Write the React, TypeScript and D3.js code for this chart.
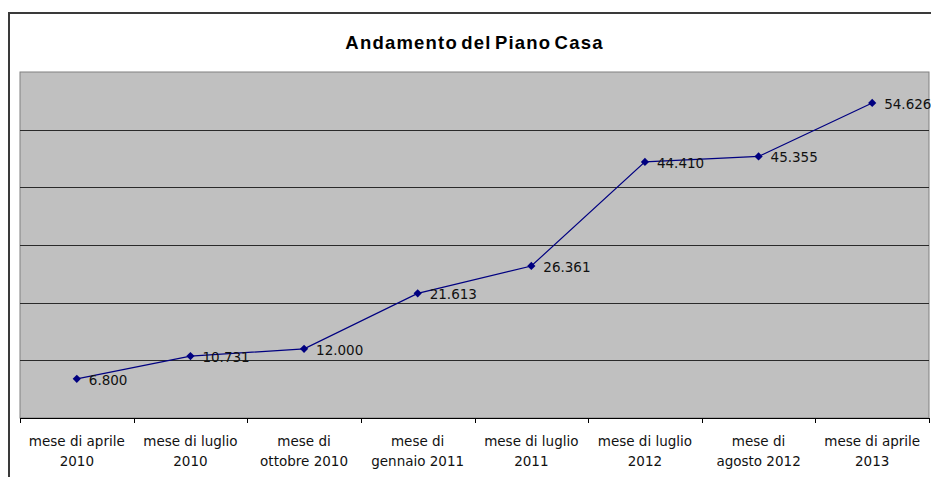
import React from "react";
import * as d3 from "d3";

const categories: string[][] = [
  ["mese di aprile", "2010"],
  ["mese di luglio", "2010"],
  ["mese di", "ottobre 2010"],
  ["mese di", "gennaio 2011"],
  ["mese di luglio", "2011"],
  ["mese di luglio", "2012"],
  ["mese di", "agosto 2012"],
  ["mese di aprile", "2013"],
];
const values: number[] = [6800, 10731, 12000, 21613, 26361, 44410, 45355, 54626];
const yTicks: number[] = [0, 10000, 20000, 30000, 40000, 50000, 60000];
const title = "Andamento del Piano Casa";

const W = 931;
const H = 477;
const plot = { left: 20, right: 929, top: 72, bottom: 418 };

const locale = d3.formatLocale({ decimal: ",", thousands: ".", grouping: [3], currency: ["€", ""] });
const fmt = locale.format(",.0f");

export default function App() {
  const keys = categories.map((c) => c.join(" "));
  const x = d3.scaleBand<string>().domain(keys).range([plot.left, plot.right]);
  const y = d3.scaleLinear().domain([0, 60000]).range([plot.bottom, plot.top]);
  const cx = (i: number) => (x(keys[i]) as number) + x.bandwidth() / 2;
  const line = d3
    .line<number>()
    .x((_, i) => cx(i))
    .y((d) => y(d));
  const marker = d3.symbol().type(d3.symbolSquare).size(34)();
  const font = "'DejaVu Sans', Verdana, sans-serif";
  const boundaries = keys.map((k) => x(k) as number).concat([plot.right]);

  return (
    <svg
      width={W}
      height={H}
      style={{ position: "absolute", left: 0, top: 0, background: "#fff" }}
    >
      <rect x={9} y={13} width={W + 20} height={H + 20} fill="#fff" stroke="#3a3a3a" strokeWidth={2} />
      <text
        x={(plot.left + plot.right) / 2}
        y={49}
        textAnchor="middle"
        fontFamily="'Liberation Sans', Arial, sans-serif"
        fontWeight="bold"
        fontSize={18.5}
        letterSpacing={1.2}
        wordSpacing={-3}
        fill="#000"
      >
        {title}
      </text>
      <rect
        x={plot.left}
        y={plot.top}
        width={plot.right - plot.left}
        height={plot.bottom - plot.top}
        fill="#c0c0c0"
        stroke="#808080"
        strokeWidth={1}
      />
      {yTicks
        .filter((t) => t > 0 && t < 60000)
        .map((t) => (
          <line
            key={t}
            x1={plot.left}
            x2={plot.right}
            y1={Math.round(y(t)) + 0.5}
            y2={Math.round(y(t)) + 0.5}
            stroke="#2a2a2a"
            strokeWidth={1}
          />
        ))}
      <line x1={plot.left} x2={plot.right} y1={plot.bottom + 0.5} y2={plot.bottom + 0.5} stroke="#000" strokeWidth={1} />
      {boundaries.map((b, i) => (
        <line
          key={i}
          x1={Math.round(b) + 0.5}
          x2={Math.round(b) + 0.5}
          y1={plot.bottom}
          y2={plot.bottom + 5}
          stroke="#000"
          strokeWidth={1}
        />
      ))}
      {categories.map((c, i) => (
        <text key={i} x={cx(i)} textAnchor="middle" fontFamily={font} fontSize={13.5} fill="#111">
          <tspan x={cx(i)} y={446}>
            {c[0]}
          </tspan>
          <tspan x={cx(i)} y={466}>
            {c[1]}
          </tspan>
        </text>
      ))}
      <path d={line(values) as string} fill="none" stroke="#000080" strokeWidth={1.2} />
      {values.map((v, i) => (
        <path key={i} d={marker as string} transform={`translate(${cx(i)},${y(v)}) rotate(45)`} fill="#000080" />
      ))}
      {values.map((v, i) => (
        <text key={i} x={cx(i) + 12} y={y(v) + 6} fontFamily={font} fontSize={13.5} fill="#111">
          {fmt(v)}
        </text>
      ))}
    </svg>
  );
}
